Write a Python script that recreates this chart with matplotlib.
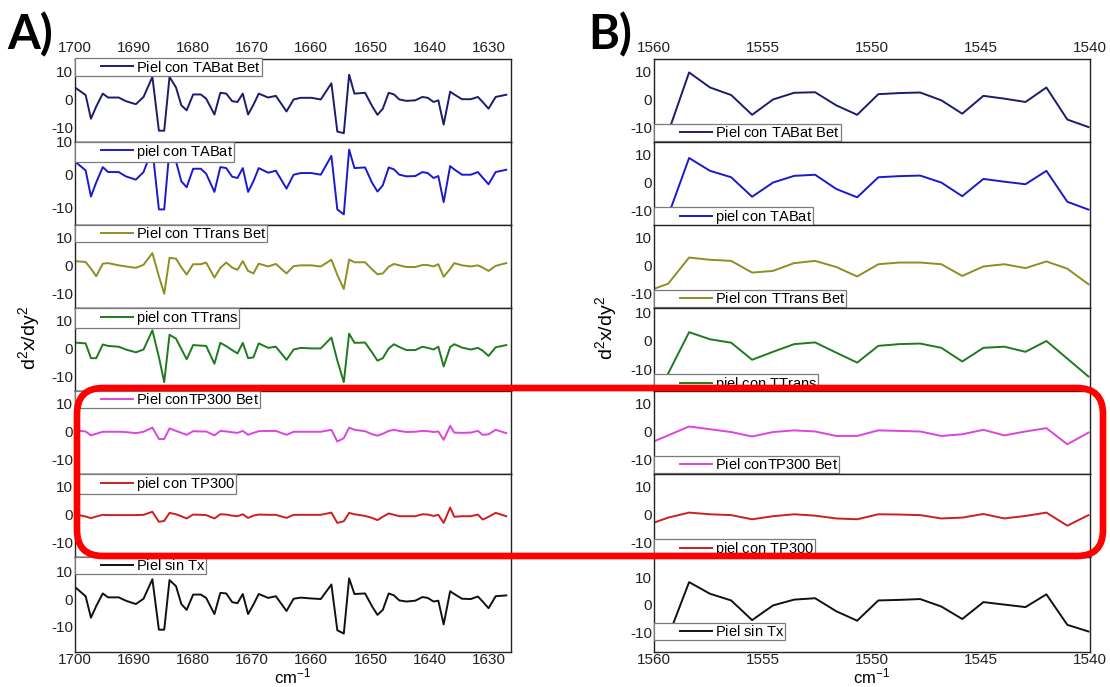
import matplotlib
matplotlib.use("Agg")
import matplotlib.pyplot as plt
from matplotlib.patches import FancyBboxPatch
from matplotlib.legend_handler import HandlerLine2D

plt.rcParams['font.family'] = ['Liberation Sans', 'DejaVu Sans']
plt.rcParams['axes.unicode_minus'] = False
plt.rcParams['mathtext.fontset'] = 'custom'
plt.rcParams['mathtext.rm'] = 'Liberation Sans'
plt.rcParams['mathtext.it'] = 'Liberation Sans:italic'

# ---------------- data: panel A (1700-1626 cm-1) ----------------
wn_a = [1700.0, 1698.2, 1697.3, 1696.4, 1695.3, 1694.4, 1692.6, 1691.4, 1689.7, 1688.4,
        1686.9, 1685.8, 1684.9, 1684.0, 1682.9, 1682.0, 1681.1, 1680.0, 1678.7, 1677.8,
        1676.4, 1675.4, 1674.4, 1673.4, 1672.5, 1671.6, 1670.7, 1669.8, 1668.9, 1667.3,
        1666.0, 1664.2, 1663.0, 1661.8, 1660.0, 1658.4, 1656.6, 1655.6, 1654.5, 1653.6,
        1652.7, 1650.9, 1649.7, 1648.8, 1647.9, 1646.9, 1646.0, 1645.1, 1643.9, 1642.4,
        1641.2, 1640.3, 1639.3, 1638.5, 1637.6, 1636.5, 1635.8, 1634.5, 1633.0, 1631.8,
        1631.0, 1630.0, 1628.8, 1627.0]

a_tabat_bet = [4.2, 1.5, -7.0, -2.6, 2.0, 0.6, 0.6, -0.7, -1.8, 0.8,
               8.0, -11.3, -11.3, 8.0, 4.2, -2.2, -4.0, 1.7, 1.7, 0.2,
               -5.5, 2.3, 2.0, -0.7, -1.0, 2.0, -5.5, -2.0, 2.0, 0.6,
               1.2, -4.4, -0.1, 0.5, 0.5, -0.1, 5.7, -11.6, -12.2, 8.8,
               2.0, 2.3, -2.5, -5.6, -3.4, 2.3, 1.7, -0.1, -0.6, -0.4,
               0.8, 0.5, -1.0, -0.4, -9.1, 2.7, 1.7, 0.0, 0.0, 0.8,
               -1.0, -3.4, 0.8, 1.6]
a_tabat = [4.0, 1.3, -6.6, -2.3, 2.3, 0.8, 0.8, -0.5, -1.5, 0.8,
           7.8, -10.5, -10.5, 7.8, 4.0, -2.0, -3.8, 1.8, 1.8, 0.3,
           -5.2, 2.3, 2.0, -0.6, -1.0, 2.0, -5.2, -2.0, 2.0, 0.6,
           1.2, -4.2, 0.0, 0.5, 0.5, 0.0, 5.7, -10.5, -12.0, 7.6,
           2.0, 2.2, -2.5, -5.1, -3.2, 2.2, 1.6, 0.0, -0.5, -0.4,
           0.8, 0.5, -1.0, -0.4, -8.3, 2.6, 1.6, 0.0, 0.0, 0.8,
           -0.9, -2.9, 0.8, 1.5]
a_ttrans_bet = [1.5, 1.2, -1.2, -3.9, 0.6, 0.8, 0.0, -0.4, -0.9, 0.2,
                4.4, -3.9, -10.2, 2.7, 2.4, -0.7, -3.3, 0.4, 0.4, 1.0,
                -4.4, -0.9, 1.0, -0.8, -1.6, 1.5, -2.0, -2.9, 0.6, -0.4,
                0.5, -2.9, -0.3, 0.0, 0.0, -0.4, 2.0, -3.4, -8.5, 2.1,
                1.1, 1.1, -1.5, -3.2, -2.9, -0.5, 0.5, 0.0, -0.6, -0.6,
                0.1, 0.1, -0.4, 0.4, -4.1, -1.3, 0.8, 0.0, -0.4, 0.0,
                -0.8, -2.0, -0.2, 0.8]
a_ttrans = [2.1, 1.8, -3.5, -3.5, 1.4, 0.9, 0.6, -0.4, -1.4, -0.4,
            6.5, -3.1, -12.1, 4.9, 3.5, -0.2, -3.9, 1.2, 1.0, 0.9,
            -5.5, 2.0, 0.8, -0.6, -1.8, 2.0, -3.5, -3.2, 1.8, 0.2,
            0.6, -4.1, -0.4, 0.2, 0.0, 0.0, 3.9, -4.3, -12.1, 5.3,
            2.0, 2.1, -1.5, -4.4, -3.5, 0.0, 1.5, 0.5, -0.6, -0.6,
            0.6, 0.2, -0.4, 0.6, -6.5, 0.5, 1.5, 0.3, -0.4, 0.2,
            -0.8, -2.7, 0.4, 1.2]
a_tp300_bet = [0.4, 0.0, -1.4, -0.8, -0.1, -0.1, -0.1, -0.2, -0.6, -0.1,
               1.4, -2.7, -2.7, 1.1, 0.2, -0.5, -1.2, 0.1, 0.0, 0.0,
               -1.4, 0.2, 0.0, -0.3, -0.5, 0.2, -1.2, -0.5, 0.1, 0.2,
               0.2, -1.2, -0.1, -0.1, -0.1, -0.1, 0.6, -3.6, -2.4, 1.4,
               0.6, 0.1, -1.0, -1.5, -0.8, 0.2, 0.6, 0.2, -0.2, -0.1,
               0.2, 0.1, -0.2, 0.0, -3.0, 2.0, -0.4, -0.5, -0.4, 0.2,
               -1.2, -1.0, 0.6, -0.6]
a_tp300 = [0.1, -0.7, -1.3, -0.7, -0.1, -0.2, -0.2, -0.2, -0.2, -0.1,
           1.0, -2.6, -2.3, 0.6, 0.1, -0.6, -1.4, 0.0, -0.1, -0.2,
           -1.4, 0.1, 0.0, -0.4, -0.6, 0.1, -1.2, -0.4, 0.0, -0.1,
           -0.1, -1.2, -0.1, -0.1, -0.1, -0.1, 0.7, -3.0, -2.4, 0.6,
           0.1, -0.5, -1.2, -2.0, -0.8, 0.4, -0.1, -0.6, -0.6, -0.6,
           0.1, 0.0, -0.5, -0.1, -3.0, 2.5, -0.8, -0.6, -0.6, 0.0,
           -1.8, -0.8, 0.6, -0.6]
a_sin_tx = [4.3, 1.0, -6.7, -2.5, 2.0, 0.6, 0.6, -0.6, -1.8, 0.1,
            7.1, -11.0, -11.0, 6.8, 4.6, -1.8, -3.9, 1.6, 1.6, 0.4,
            -5.4, 2.2, 2.0, -1.1, -1.5, 1.8, -5.4, -2.0, 1.8, 0.4,
            1.0, -4.3, 0.1, 0.5, 0.2, 0.0, 5.2, -11.2, -12.4, 7.4,
            1.8, 2.0, -2.7, -5.7, -3.9, 2.0, 1.3, -0.5, -0.9, -0.6,
            0.7, 0.4, -0.9, -0.6, -9.1, 2.8, 1.8, 0.1, 0.0, 0.9,
            -0.9, -3.3, 1.0, 1.3]

# ---------------- data: panel B (1560-1540 cm-1) ----------------
wn_b = [1560.32, 1559.35, 1558.39, 1557.43, 1556.46, 1555.50, 1554.54, 1553.57,
        1552.61, 1551.64, 1550.68, 1549.71, 1548.75, 1547.79, 1546.82, 1545.86,
        1544.89, 1543.93, 1542.96, 1542.00, 1541.04, 1540.07]

b_tabat_bet = [-12.0, 9.6, 4.2, 1.5, -5.6, -0.1, 2.3, 2.5, -2.2, -5.6, 1.8,
               2.2, 2.4, -0.4, -5.2, 1.2, 0.2, -1.0, 4.2, -7.3, -10.0]
b_tabat = [-12.0, 8.7, 4.1, 1.8, -5.2, -0.1, 2.3, 2.7, -2.4, -5.4, 1.8,
           2.2, 2.4, -0.1, -5.0, 1.2, 0.2, -0.7, 4.1, -7.0, -9.8]
b_ttrans_bet = [-9.3, -6.6, 2.8, 2.0, 1.6, -2.6, -2.0, 0.8, 1.6, -0.6, -4.0,
                0.4, 1.0, 1.0, 0.4, -3.8, -0.4, 0.4, -1.0, 1.4, -1.2, -6.8]
b_ttrans = [-11.5, 3.0, 0.5, -0.7, -6.7, -3.9, -1.2, -0.6, -4.2, -7.7, -1.8,
            -1.2, -1.0, -2.5, -7.3, -2.5, -2.1, -3.9, -0.1, -6.3, -12.6]
b_tp300_bet = [-4.6, -1.4, 1.8, 0.8, -0.2, -1.8, -0.2, 0.4, 0.0, -1.6, -1.6,
               0.4, 0.2, 0.0, -1.6, -1.0, 0.6, -1.4, 0.0, 1.2, -4.6, -0.4]
b_tp300 = [-3.8, -1.1, 0.7, 0.1, -0.2, -1.7, -0.6, 0.1, -0.4, -1.4, -1.7,
           0.1, 0.0, -0.2, -1.4, -1.1, 0.2, -1.4, -0.5, 0.7, -4.0, -0.2]
b_sin_tx = [-11.5, 8.2, 4.0, 1.6, -5.5, -0.2, 1.9, 2.4, -2.3, -5.7, 1.6,
            1.8, 2.1, -0.6, -5.1, 1.0, 0.1, -0.8, 3.8, -7.2, -9.6]

labels = ["Piel con TABat Bet", "piel con TABat", "Piel con TTrans Bet",
          "piel con TTrans", "Piel conTP300 Bet", "piel con TP300", "Piel sin Tx"]
xticks_a = [1700, 1690, 1680, 1670, 1660, 1650, 1640, 1630]
xticks_b = [1560, 1555, 1550, 1545, 1540]
yticks = [-10, 0, 10]

colors = ['#1c1c6c', '#1a1acc', '#8e8e22', '#1f7a1f', '#dd44dd', '#cc2020', '#111111']

series_a = [(wn_a, a_tabat_bet), (wn_a, a_tabat), (wn_a, a_ttrans_bet), (wn_a, a_ttrans),
            (wn_a, a_tp300_bet), (wn_a, a_tp300), (wn_a, a_sin_tx)]
series_b = [(wn_b[1:], b_tabat_bet), (wn_b[1:], b_tabat), (wn_b, b_ttrans_bet),
            (wn_b[1:], b_ttrans), (wn_b, b_tp300_bet), (wn_b, b_tp300), (wn_b[1:], b_sin_tx)]

W, H = 1110, 687
fig = plt.figure(figsize=(W / 100, H / 100), dpi=100)
fig.patch.set_facecolor('white')

TOP = 58.5
ROW = 83.07
BOTTOM_LAST = 652.0
row_edges = [TOP + i * ROW for i in range(7)] + [BOTTOM_LAST]

dflt = (-15.2, 14.6)
ylims_a = [dflt, (-15.1, 10.02), dflt, dflt, dflt, dflt, (-19.0, 15.1)]
ylims_b = [dflt, dflt, dflt, (-17.6, 11.6), dflt, dflt, (-17.0, 17.3)]
# legend top offset (px below the row top) for panel B
leg_off_b = [65.5, 65.5, 65.5, 66.5, 65.5, 65.5, 66.0]

FS = 10.5
pad_label = r"$\quad$"


def build_panel(left, right, series, xlim, xticks, ylims, leg_offsets):
    for i in range(7):
        ytop, ybot = row_edges[i], row_edges[i + 1]
        hpx = ybot - ytop
        ax = fig.add_axes([left / W, 1 - ybot / H, (right - left) / W, hpx / H])
        x, y = series[i]
        line, = ax.plot(x, y, color=colors[i], lw=1.4, label=labels[i] + pad_label)
        ax.set_xlim(*xlim)
        ax.set_ylim(*ylims[i])
        ax.set_yticks(yticks)
        ax.set_yticklabels([str(t) for t in yticks])
        ax.set_xticks(xticks)
        ax.set_xticklabels([str(t) for t in xticks])
        ax.tick_params(axis='both', length=0, labelsize=11, labelcolor='#222222')
        ax.tick_params(axis='y', pad=1.5)
        ax.tick_params(axis='x', pad=(2.5 if i == 0 else 0.5), top=False, bottom=False,
                       labeltop=(i == 0), labelbottom=(i == 6))
        for s in ax.spines.values():
            s.set_color('#222222')
            s.set_linewidth(1.0)
        if leg_offsets is None:
            anchor = (0, 1)
        else:
            anchor = (0, 1 - leg_offsets[i] / hpx)
        leg = ax.legend(handles=[line], loc='upper left', bbox_to_anchor=anchor,
                        borderaxespad=0, fontsize=FS, frameon=True, fancybox=False,
                        framealpha=1, edgecolor='#7a7a7a', borderpad=0.07,
                        handlelength=3.9, handletextpad=0.2,
                        handler_map={line: HandlerLine2D(xpad=1.71)})
        leg.get_frame().set_linewidth(0.9)


build_panel(75, 511, series_a, (1700, 1626.2), xticks_a, ylims_a, None)
build_panel(654, 1090, series_b, (1560, 1540), xticks_b, ylims_b, leg_off_b)

# axis titles
ylab = r"d$^{\mathregular{2}}$x/dy$^{\mathregular{2}}$"
fig.text(29 / W, 1 - 338 / H, ylab, rotation=90, ha='center', va='center', fontsize=14)
fig.text(606 / W, 1 - 328 / H, ylab, rotation=90, ha='center', va='center', fontsize=14)
xlab = r"cm$^{\mathregular{-1}}$"
fig.text(293 / W, 1 - 686.5 / H, xlab, ha='center', va='bottom', fontsize=12)
fig.text(872 / W, 1 - 686.5 / H, xlab, ha='center', va='bottom', fontsize=12)

# panel letters
fig.text(7 / W, 1 - 49 / H, "A)", fontsize=34, fontweight='bold', family=['Lato', 'DejaVu Sans'],
         ha='left', va='baseline')
fig.text(588 / W, 1 - 49 / H, "B)", fontsize=34, fontweight='bold', family=['Lato', 'DejaVu Sans'],
         ha='left', va='baseline')

# red highlight box
box = FancyBboxPatch((0.77, 1.31), 10.26, 1.68, boxstyle="round,pad=0,rounding_size=0.26",
                     transform=fig.dpi_scale_trans, fill=False, edgecolor='#ff0000',
                     linewidth=4.8, zorder=20)
fig.add_artist(box)

fig.savefig("out.png", dpi=100, facecolor='white')
